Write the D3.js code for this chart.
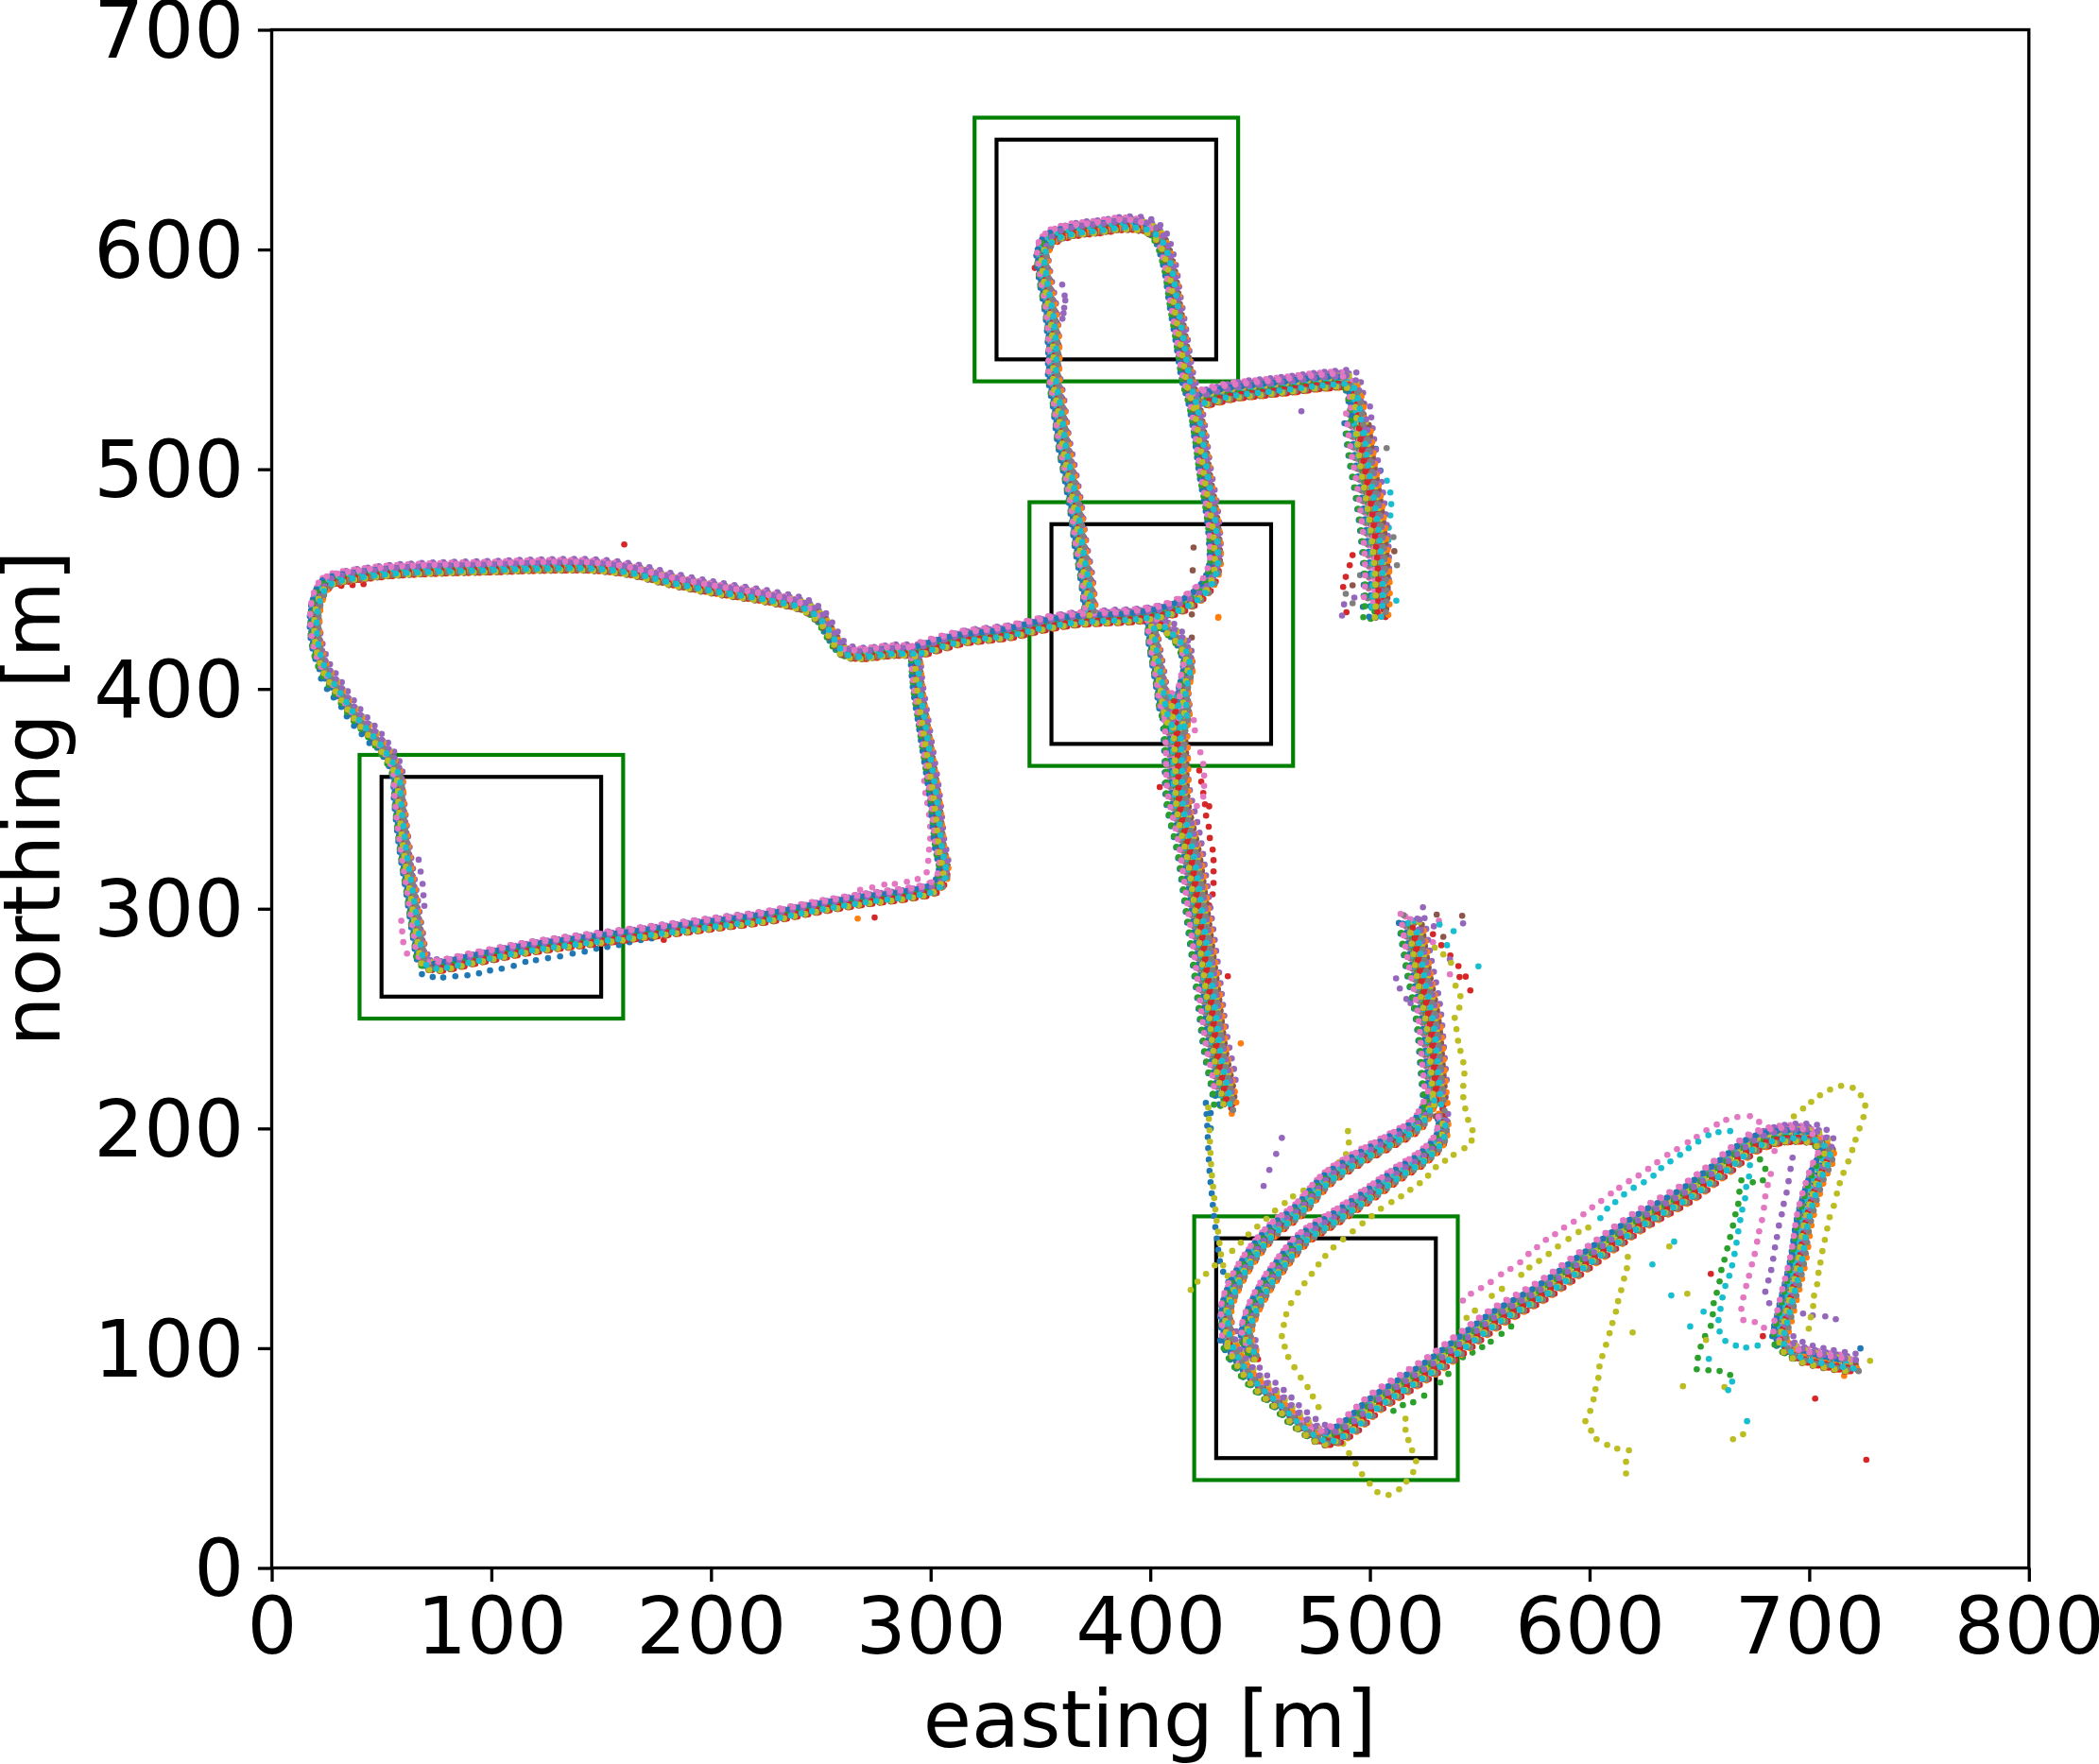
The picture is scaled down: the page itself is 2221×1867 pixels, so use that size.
<!DOCTYPE html>
<html><head><meta charset="utf-8">
<style>html,body{margin:0;background:#fff}svg{display:block}text{font-family:"DejaVu Sans";fill:#000}</style>
<script src="https://cdn.jsdelivr.net/npm/d3@7/dist/d3.min.js"></script></head><body>
<svg id="c" width="2221" height="1867"></svg>
<script>
// ---- axes
const xTicks=[0,100,200,300,400,500,600,700,800];
const yTicks=[0,100,200,300,400,500,600,700];
// ---- window boxes [e0,e1,n0,n1]
const outerBoxes=[[40,160,250,370],[320,440,540,660],[345,465,365,485],[420,540,40,160]];
const innerBoxes=[[50,150,260,360],[330,430,550,650],[355,455,375,475],[430,530,50,150]];
const seriesColors=["#1f77b4","#ff7f0e","#2ca02c","#d62728","#9467bd","#8c564b","#e377c2","#7f7f7f","#bcbd22","#17becf"];
// lateral position of each run inside a road band, metres [east,north]; the colour cycle repeats, so three rounds of runs
const runOffsetsA=[[-2.0,-0.5],[1.0,-2.2],[-0.8,-1.6],[1.2,-2.1],[1.6,2.2],[0.8,-1.0],[-1.2,1.8],[0.3,-0.3],[-0.5,0.3],[0.2,0.9]];
const runOffsetsB=[[-1.0,-1.2],[0.3,-1.8],[-0.3,-1.0],[0.9,-1.5],[0.6,1.5],[1.4,-0.3],[-0.4,1.0],[-1.3,0.7],[0.9,0.8],[-0.7,-0.2]];
const runOffsetsC=[[-1.6,0.6],[1.7,-1.2],[-1.8,-1.1],[0.1,-1.2],[1.0,0.8],[-0.2,-2.2],[-1.8,1.2],[1.2,-1.8],[-0.3,-2.0],[0.7,-1.3]];
const runRounds=[runOffsetsA,runOffsetsB,runOffsetsC];
const runPhasesA=[0,3,7,1,9,5,2,10,6,4];
const runPhasesB=[6,1,10,4,2,8,5,0,3,9];
const runPhasesC=[3,8,5,11,6,1,9,4,0,7];
const phaseRounds=[runPhasesA,runPhasesB,runPhasesC];
// ---- road centre lines [easting,northing]
const routeLoop=[[293.2,417.6],[282.2,417.6],[266.8,416.2],[260.2,417.6],[255.8,423.4],[250.3,432],[242.7,437.7],[225.1,442],[203.1,445.6],[181.1,449.9],[163.6,454.2],[146,456.3],[119.6,456.3],[97.7,455.6],[71.3,454.9],[49.3,453.5],[27.4,449.9],[24.1,447.7],[20.8,440.6],[19.7,431.2],[20.8,419.8],[24.1,409.7],[29.5,401.2],[38.3,388.3],[49.3,375.4],[57,362.5],[58.1,349.6],[60.3,329.5],[63.6,308],[66.9,286.5],[69.1,276.5],[73.5,274.3],[93.3,277.9],[115.2,282.2],[141.6,285.8],[159.2,288],[181.1,290.8],[203.1,293.7],[225.1,296.5],[247.1,300.8],[269,304.4],[291,307.3],[302,310.2],[306,316.6],[304.2,329.5],[302,351],[298.7,372.5],[296.5,386.8],[294.3,401.2],[293.2,415.5]];
const routeNorth=[[293.2,417.6],[313,423.4],[321.2,424.5],[335.5,426.2],[349.8,429.5],[364.2,431.9],[378.6,432.8],[392.9,433.6],[407.3,436],[418.7,441],[425.9,447.6],[429.5,456.6],[429.5,468.1],[428.1,481.3],[425.2,497.8],[423,514.2],[420.2,530.7],[417.3,540.6],[414.4,558.7],[411.6,575.1],[408.7,593.2],[404.4,605.6],[398.6,610.5],[388.6,612],[375.7,610.4],[364.2,609],[355.6,606.2],[351.3,600.6],[352,588.3],[354.9,571.8],[356.3,555.4],[356.3,542.2],[358.5,529],[360.6,512.6],[363.5,497.8],[366.4,481.3],[368.5,464.8],[371.4,448.4],[372.8,435.2]];
const routeArmTop=[[421.6,532],[436,535.6],[450.3,537.3],[464.6,538.9],[479,540.6],[490.5,540.4],[493.4,534],[494.8,522.5]];
const routeArmLow=[[494.8,522.5],[496.9,506],[499.8,489.5],[502,473],[503.4,456.6],[503.4,441],[502.7,436]];
const routeForkWest=[[400.8,430.9],[401.5,422.7],[403.7,409.5],[405.1,401.3],[406.6,391.4],[409.9,383]];
const routeForkEast=[[404.4,430.9],[414.4,421],[417.3,411.2],[415.2,399.6],[415.9,389.8],[414.4,383]];
const routeSouth=[[410.6,398],[411.3,389.8],[412.3,370],[413,350.3],[418,327.2],[420.9,307.5],[423.8,286],[427.1,261.4],[430.2,236.7],[434.1,216.9],[434.2,213]];
const routeTall=[[519.2,295],[522.4,274.5],[527.1,249.8],[529.3,225.2],[530.5,212]];
const routeLaneInner=[[533.5,204.8],[532.4,196.2],[524.7,187.6],[513.7,180.4],[501.7,171.8],[485.2,160.4],[469.8,150.3],[458.8,137.4],[451.1,126],[445.6,114.5],[443.9,105.9],[447.8,97.3]];
const routeLaneOuter=[[529.1,216.2],[522.5,203.3],[509.3,194.7],[496.2,187.6],[480.8,177.5],[467.6,163.2],[456.6,154.6],[447.8,144.6],[439,130.3],[434.6,117.4],[435.7,104.5]];
const routeLobe=[[435.7,104.5],[440.1,95.9],[447.8,85.8],[458.8,75.8],[467.6,67.2],[479.7,60],[489.6,64.3],[502.8,75.8],[515.9,84.4],[529.1,93],[542.3,103],[557.7,114.5],[579.7,127.4],[601.6,143.2],[623.6,158.9],[645.6,171.8],[660.9,183.3],[676.3,194.7],[691.7,198],[702.7,196.6],[708.2,190.4],[703.8,179],[698.3,160.4],[695,140.3],[689.5,117.4],[687.3,104.5],[693.9,98.7],[707.1,95.1],[720.3,93]];
const routes=[routeLoop,routeNorth,routeArmTop,routeArmLow,routeForkWest,routeForkEast,routeSouth,routeTall,routeLaneInner,routeLaneOuter,routeLobe];
const routeSpread=[1.2,1.4,1.8,3.2,1.2,1.2,2.9,3.0,1.3,1.3,1.9];
// thin tail of dots south of the road end: only two runs use it
const tailRoute=[[426.5,211.9],[427.2,200.5],[427.6,190.4],[428.2,180.4],[429.2,170.4],[430.2,160.4],[431.3,151.8],[433.5,137.4],[436.8,130.3]];
const tailSeries=[0,8];
// ---- individually read stray dots per series
const strayBlue=[[68.4,270.2],[73.3,268.9],[78.1,268.7],[83.6,269.3],[89.1,269.7],[94.4,270.6],[99.4,271.9],[104.7,272.7],[110.2,274],[115.5,275.8],[120.3,276.6],[125.8,277.5],[131.3,278.3],[137,279.6],[142.5,280.5],[147.8,281.8],[152.8,282.6],[158.1,283.5],[162.9,284.8],[168,285.7],[173,286.5],[22.5,404.7],[25.2,400],[28.2,396.1],[31.7,391.8],[34.2,387.5],[37.5,383.2],[41,379.4],[44.5,375.4],[723.3,99.9],[502.7,509.3],[504.8,499.4],[427.5,207],[427.5,200]];
const strayOrange=[[441.2,238.7],[431,432.7],[430.9,432.4],[715.9,87.4],[266.8,295.5]];
const strayGreen=[[677.6,185.9],[680,181.6],[678.9,176.4],[674.3,175.5],[669.1,176.4],[668.2,171.2],[667.7,165.7],[666.4,160.9],[665.3,155.8],[664,150.6],[662.7,145.4],[661.4,140.3],[660,135.6],[659.2,130.4],[657.9,125.2],[656.5,120.5],[656.1,115.4],[655.2,110.2],[652.6,105.5],[650.6,100.7],[649.3,95.6],[648.8,90.4],[654.1,90],[659.2,89.6],[664,87.8],[510.7,71.5],[515,74.1],[519.7,75.4],[524.7,78.4],[532,84.4],[535.7,88.3],[542.3,95.9],[546.7,98],[551.1,100.5],[555,103],[559.9,106.5],[564.3,109.9]];
const strayRed=[[655.2,133.8],[678.9,105.5],[702.7,77.1],[726,49.2],[422.3,362.9],[423.2,357.8],[424.1,352.7],[424.9,347.5],[426.8,346.6],[425.4,342.4],[426.6,337.3],[427.1,332.2],[428.4,326.9],[428.8,322.1],[428.8,317],[428.8,311.7],[428.4,306.6],[426.8,301.5],[404.3,355.4],[435.3,269.3],[528.7,288.4],[532.5,283.4],[536.6,278.7],[540.3,273.9],[543.6,269.1],[545.7,262.8],[540.8,268.9],[347.4,591.6],[492.1,460.9],[490.8,456.3],[489,451],[487.8,446.4],[489.3,434.9],[160.5,465.8],[274.5,296],[178.5,285.8],[31.7,447],[36.8,447.3],[41.8,447.7]];
const strayPurple=[[692.4,186.7],[691.5,181.6],[690.6,176],[689.7,170.8],[688.4,165.7],[687.5,160.9],[686.2,155.8],[685.3,150.6],[684.4,145.9],[683.6,140.7],[682.7,135.6],[681.4,130.8],[680,125.7],[681.8,120.5],[697.2,115.8],[701.6,114.9],[707.3,114.5],[712.1,113.2],[459.9,195.7],[457.3,188.4],[454.2,181.1],[451.6,173.8],[542.4,293.3],[529.1,292],[536.4,277],[511.9,268.3],[513.6,263.7],[516.6,258.9],[518.5,257],[359.9,584],[361,579.1],[361.3,576.8],[360.8,573.5],[360.5,571],[360,568.5],[468.8,526.4],[492.9,441.6],[488.2,438.5],[487.3,433.4],[66.9,322.3],[67.8,316.9],[68.7,311.3],[69.1,306.1],[69.5,301.3]];
const strayBrown=[[530.4,297.3],[533.4,287.2],[542,296.8],[419.7,464.4],[419.3,454],[418.9,433.9],[418.9,423.4],[492.1,447.2],[511.1,462.7]];
const strayPink=[[542.3,121.7],[546,124.8],[550.6,127.4],[555,130.1],[559.7,133.6],[564,136.1],[568.4,139.1],[572.2,142.9],[576.1,146],[580.1,149.3],[584.3,151.9],[588.4,154.9],[592.8,157.6],[597.2,160.9],[601.2,164.1],[605.3,167],[609.7,170.4],[613.5,173],[617.9,176],[622.3,178.6],[626.7,181.6],[630.8,184.6],[635.4,188],[639.8,190.6],[644.7,193.7],[648.8,196.2],[653.2,199.2],[657.9,201.8],[662.2,203.9],[667.3,205.2],[673,205.6],[677.2,203],[684.2,189.7],[682.5,179.3],[681.1,174.3],[680,169.1],[679.4,163.9],[678.5,158.3],[677.2,153.2],[676.3,148.5],[675.2,142.9],[673.9,138.1],[672.6,133],[671.3,128.3],[670,123.1],[669.1,117.9],[670,112.8],[675.2,111.9],[679.4,109.3],[424.1,351],[421.2,346.8],[424.5,355.9],[424.5,360.6],[424.1,365.9],[422.8,371.2],[419.8,385.8],[420.3,381.2],[531.4,294.5],[528.7,284.7],[536.4,270.1],[297.1,358.2],[297.6,352.7],[298.5,348.1],[299.3,342.8],[299.8,337.4],[299.8,331.9],[299.3,326.9],[298.9,321.8],[298.2,316.6],[294.1,313.5],[289.2,312.3],[283.7,311.3],[278.9,311],[273.4,309.7],[267.9,308.6],[59,294.5],[59.4,289.7],[59.9,284.8],[61.6,279.6]];
const strayGray=[[489,443.3],[495.5,451.8],[492.1,439],[507.6,509.6],[510.7,469.1],[512.3,456.3]];
const strayOlive=[[540.1,239.9],[541.2,235.3],[542.5,230.1],[543,225],[542.5,219.4],[542.5,214.2],[543.4,209.1],[544.7,203.9],[546.7,199.2],[546.3,194.5],[543,191],[538.1,188],[534.2,185.3],[530,182.4],[526.5,178.5],[522.7,175.1],[518.4,172.1],[514.2,169.1],[509.8,166.5],[505,163.5],[500.8,160.1],[496.6,156.8],[492.2,153.2],[487.8,149.5],[483.4,145.9],[479.7,142],[476.6,138.1],[473.5,133.8],[470.2,129.5],[467.2,125.2],[464.1,120.5],[461.9,115.4],[460.8,110.6],[459.9,105.5],[461.2,100.7],[462.8,96],[465.6,91.3],[468.5,86.6],[471.6,82.3],[474,78],[476.6,73.2],[487.8,56.5],[490.5,52.2],[493.5,47.4],[496.4,42.7],[499.9,38.4],[503.4,34.5],[508.5,33.2],[513.3,35.8],[516.6,39.3],[519.7,43.6],[521,48.6],[519.2,53.5],[517.5,58.2],[516.2,62.9],[516.2,67.9],
[418.4,126.5],[421.5,130.3],[425.4,133.8],[429.4,137.7],[437.3,144.3],[441.2,148],[444.7,151.8],[448.7,155.3],[452.9,158.9],[456.8,162.6],[461.2,166.1],[465,169.1],[469.8,171.7],[474.4,173.8],[478.8,176.8],[481.9,181.3],[486,184.6],[489.1,188.3],[490.4,193.6],[490,198.8],
[617.4,141.6],[617,136.4],[615.7,131.7],[614.4,126.4],[613,121.4],[612,116.6],[610.4,111.5],[609.1,106.8],[607.5,101.6],[605.8,96.4],[604.5,91.7],[604,86.5],[602.7,81.4],[601.8,76.7],[600.3,71.5],[598.1,66.8],[600.7,62.5],[603.2,58.6],[608,56],[612.6,54.3],[617.9,53.5],[616.6,48.3],[616.6,43],
[693,205.5],[697.2,209.1],[700.9,212.1],[704.9,215.1],[709.5,217.7],[714.5,219.4],[719.8,218.5],[723.5,215.1],[725.5,210.4],[724.7,205.2],[722.9,200],[721.1,194.9],[719.6,190.2],[717.8,185],[715.6,179.8],[713.9,175.1],[712.6,170.4],[711.2,164.8],[709.3,159.6],[708.2,154.5],[707.1,149.3],[706,144.2],[705.1,139],[704.2,134.3],[703.6,129.1],[702.2,123.9],[701.8,119.2],[700.7,114.1],[699.8,108.9],
[544,113.8],[547.8,117.1],[555.5,123.8],[560.1,127],[568.9,133.4],[572.6,136.7],[577,139.7],[581.4,142.9],[585.6,146.3],[590.4,149.7],[595,152.9],[599.4,154.9],
[644.5,124.8],[636.3,146.3],[619.6,107.2],[642.5,82.7],[661.4,82.3],[665.3,58.6],[669.9,60.8],[727.7,94.3],[653,103.7],[529.5,282.3],[533.4,279.2],[536.9,275.4],[539,265],[541.2,260.2],[540.7,255],[538.6,250.3],[539.4,245.2]];
const strayCyan=[[604.9,159.2],[608,163.5],[611.7,166.5],[615.7,170],[620.1,173],[624.7,175.5],[629.1,178.5],[632.6,182],[636.8,185],[641.2,188],[645.1,191],[649.5,194],[654.1,196.9],[658.7,198.3],[664,198.8],[673,183.3],[672.6,178.1],[671.3,173.4],[670.8,168.2],[669.5,163.1],[668.6,158.3],[667.7,153.2],[666.9,148],[666,142.9],[664.9,137.7],[663.6,133],[661.8,128.3],[660.5,123.1],[659.6,117.9],[658.7,112.8],[659.2,107.6],[661.8,103.3],[666.6,101.2],[671.3,100.3],[676.5,101.2],[638.5,148.5],[628.6,138.1],[637.2,124],[651.9,116.6],[645.8,109.9],[654.3,95.1],[664.9,84.8],[663.1,80.9],[671.7,66.8],[531.7,292.8],[538.1,289.8],[535.1,283.4],[549.4,273.8],[507.7,494.8],[509.3,489.4],[509.7,484.1],[509.3,479],[508.6,473.4],[508.4,467.8],[512,440.2]];
const strays=[strayBlue,strayOrange,strayGreen,strayRed,strayPurple,strayBrown,strayPink,strayGray,strayOlive,strayCyan];

const x=d3.scaleLinear().domain([0,800]).range([287.5,2146.8]);
const y=d3.scaleLinear().domain([0,700]).range([1659.5,31.5]);
const svg=d3.select("#c");

svg.append("g").selectAll("rect").data(outerBoxes).join("rect")
 .attr("x",d=>x(d[0])).attr("y",d=>y(d[3])).attr("width",d=>x(d[1])-x(d[0])).attr("height",d=>y(d[2])-y(d[3]))
 .attr("fill","none").attr("stroke","#008000").attr("stroke-width",4.17);
svg.append("g").selectAll("rect").data(innerBoxes).join("rect")
 .attr("x",d=>x(d[0])).attr("y",d=>y(d[3])).attr("width",d=>x(d[1])-x(d[0])).attr("height",d=>y(d[2])-y(d[3]))
 .attr("fill","none").attr("stroke","#000").attr("stroke-width",4.17);

const dots=svg.append("g");
const pathOf=(pts,off,spread)=>d3.line().curve(d3.curveCatmullRom.alpha(0.5))
  .x(p=>x(p[0]+off[0]*spread)).y(p=>y(p[1]+off[1]*spread))(pts);
const dotW=6.6;
// strays first, then the dense road runs in colour-cycle order
seriesColors.forEach((col,s)=>{
  dots.append("g").selectAll("circle").data(strays[s]).join("circle")
    .attr("cx",d=>x(d[0])).attr("cy",d=>y(d[1])).attr("r",dotW/2).attr("fill",col);
});
runRounds.forEach((offsets,round)=>{
  seriesColors.forEach((col,s)=>{
    const g=dots.append("g");
    g.selectAll("path.r").data(routes).join("path").attr("class","r")
      .attr("d",(r,i)=>pathOf(r,offsets[s],routeSpread[i]))
      .attr("fill","none").attr("stroke",col).attr("stroke-width",dotW).attr("stroke-linecap","round")
      .attr("stroke-dasharray","0 11.5").attr("stroke-dashoffset",phaseRounds[round][s]);
    if(round===0 && tailSeries.includes(s)){
      g.append("path").attr("d",pathOf(tailRoute,offsets[s],0.6))
       .attr("fill","none").attr("stroke",col).attr("stroke-width",dotW).attr("stroke-linecap","round")
       .attr("stroke-dasharray","0 12").attr("stroke-dashoffset",phaseRounds[round][s]);
    }
  });
});

// frame + axes
svg.append("rect").attr("x",x(0)).attr("y",y(700)).attr("width",x(800)-x(0)).attr("height",y(0)-y(700))
 .attr("fill","none").attr("stroke","#000").attr("stroke-width",3.33);
const ax=svg.append("g").attr("transform",`translate(0,${y(0)})`)
 .call(d3.axisBottom(x).tickValues(xTicks).tickSize(14.6).tickPadding(17).tickFormat(d3.format("d")));
const ay=svg.append("g").attr("transform",`translate(${x(0)},0)`)
 .call(d3.axisLeft(y).tickValues(yTicks).tickSize(14.6).tickPadding(14.6).tickFormat(d3.format("d")));
[ax,ay].forEach(a=>{a.select(".domain").remove();
 a.selectAll("line").attr("stroke","#000").attr("stroke-width",3.33);
 a.selectAll("text").attr("font-size",83.3).attr("font-family","DejaVu Sans").attr("fill","#000");});
ay.selectAll("text").attr("dy","0.35em");
svg.append("text").attr("x",1216.7).attr("y",1849).attr("text-anchor","middle").attr("font-size",83.3).text("easting [m]");
svg.append("text").attr("transform","translate(63,845) rotate(-90)").attr("text-anchor","middle").attr("font-size",83.3).text("northing [m]");
</script></body></html>
